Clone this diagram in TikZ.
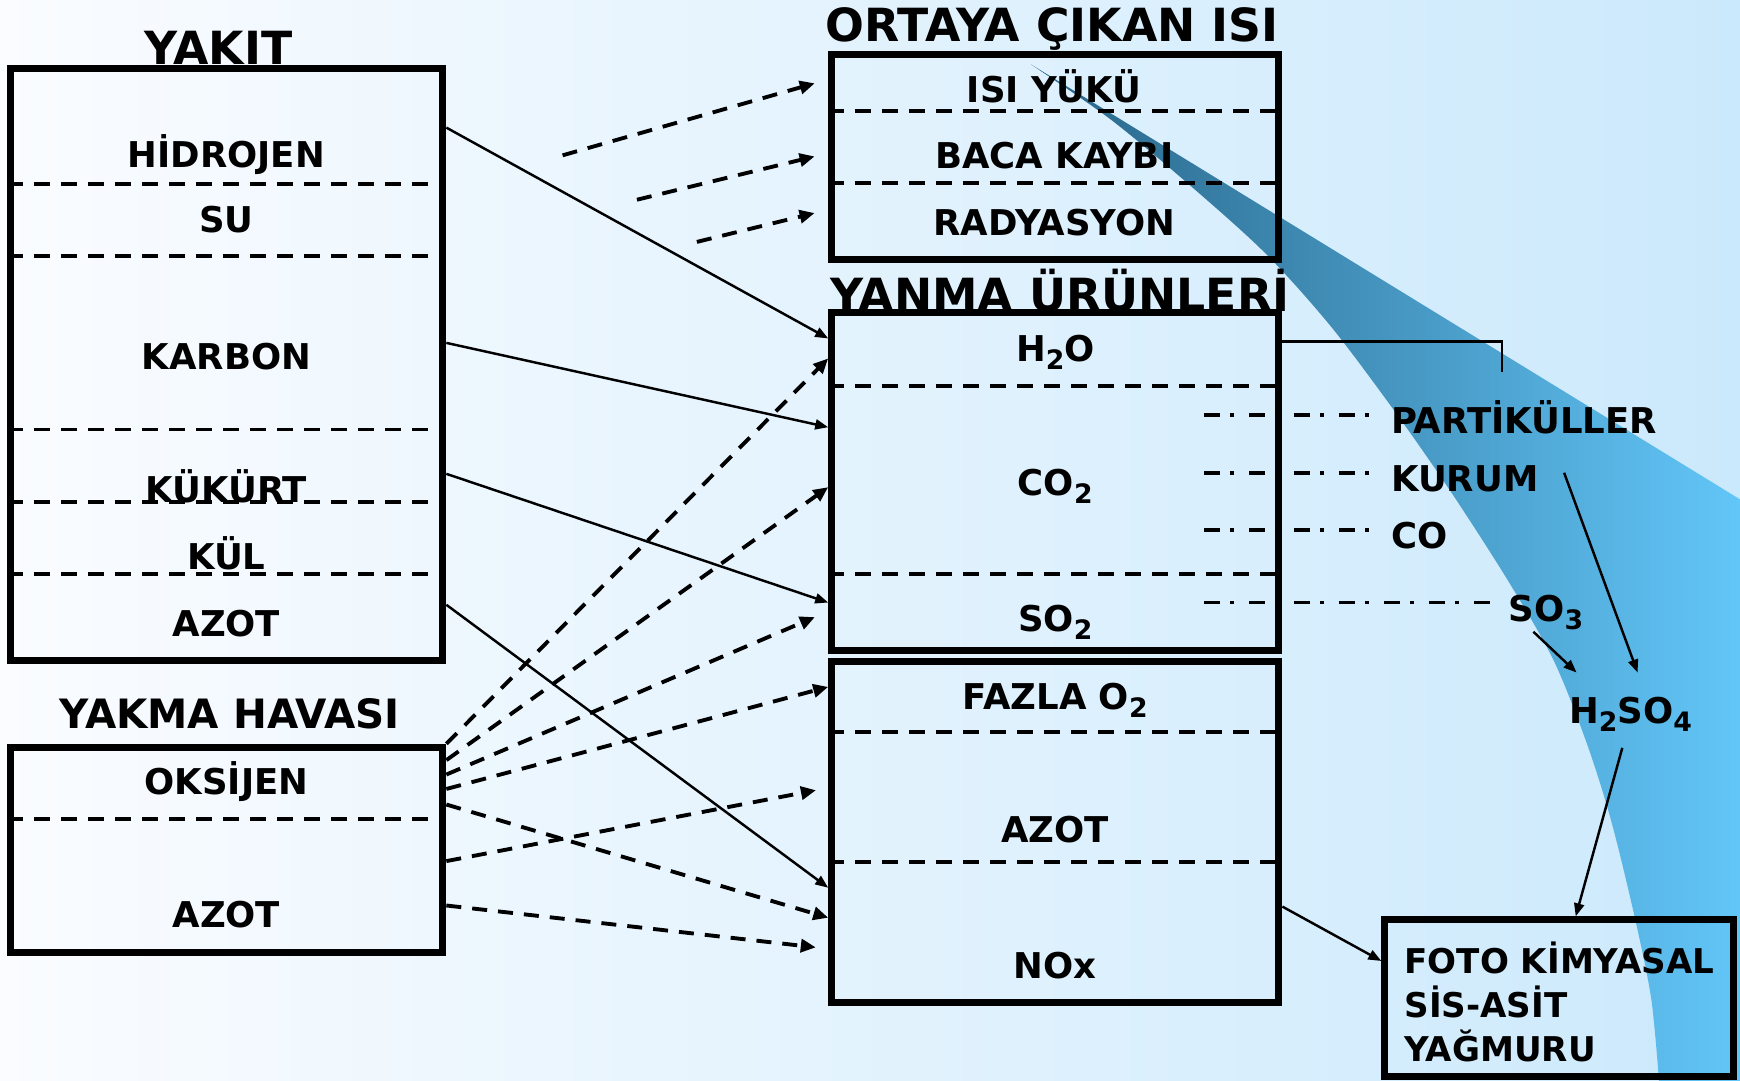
\documentclass[tikz,border=0pt]{standalone}
\usepackage{fontspec}
\setmainfont{DejaVu Sans}
\usetikzlibrary{arrows.meta}

\definecolor{paleleft}{RGB}{250,252,255}
\definecolor{paleright}{RGB}{203,233,252}
\definecolor{plumedark}{RGB}{40,100,135}
\definecolor{plumemid}{RGB}{72,152,196}
\definecolor{plumelight}{RGB}{98,198,248}

\newcommand{\chemsub}[1]{\raisebox{-2.3pt}{\fontsize{7.6}{8}\selectfont #1}}

\tikzset{
  box/.style={draw, line width=2pt, inner sep=0pt},
  divider/.style={line width=1.1pt, dash pattern=on 0.16cm off 0.11cm},
  lbl/.style={font=\fontsize{10.1}{12.5}\selectfont\bfseries, inner sep=0.1cm, text height=7.36pt, text depth=0pt},
  heading/.style={font=\fontsize{13}{15}\selectfont\bfseries, inner sep=0.1cm, text height=9.48pt, text depth=0pt},
  flow/.style={line width=0.7pt, -{Triangle[length=0.13cm,width=0.1cm]}},
  gas/.style={line width=1.1pt, dash pattern=on 0.15cm off 0.11cm, -{Triangle[length=0.15cm,width=0.13cm]}},
  trace/.style={line width=1.1pt, dash pattern=on 0.16cm off 0.10cm on 0.04cm off 0.15cm},
  bracket/.style={line width=0.8pt},
}

\begin{document}
\begin{tikzpicture}[x=0.011097cm, y=-0.011097cm]
\useasboundingbox (0,0) rectangle (1568,974);
\shade[left color=paleleft, right color=paleright] (0,0) rectangle (1568,974);

\shade[left color=plumedark, middle color=plumemid, right color=plumelight]
  (929,58) -- (1568,450) -- (1568,974)
  -- plot[smooth] coordinates {(1495,974) (1488,900) (1473,826) (1452,740) (1430,670) (1400,595) (1360,525) (1310,447) (1260,375) (1200,295) (1140,228) (1070,165) (1000,107) (929,58)}
  -- cycle;

\node[heading] (yakittitle) at (197,43) {YAKIT};
\node[heading] (isititle) at (948,22) {ORTAYA ÇIKAN ISI};
\node[heading] (uruntitle) at (955,266) {YANMA ÜRÜNLERİ};
\node[heading, font=\fontsize{11.5}{14}\selectfont\bfseries, text height=8.38pt] (havatitle) at (207,643) {YAKMA HAVASI};

\node[box, minimum width=4.321cm, minimum height=5.915cm] (yakit) at (204.3,328.5) {};
\node[box, minimum width=4.47cm, minimum height=2.047cm] (isi) at (951,141.75) {};
\node[box, minimum width=4.47cm, minimum height=3.379cm] (urun) at (951,434.25) {};
\node[box, minimum width=4.47cm, minimum height=3.407cm] (artik) at (951,749.5) {};
\node[box, minimum width=4.321cm, minimum height=2.047cm] (hava) at (204.3,765.75) {};
\node[box, minimum width=3.484cm, minimum height=1.565cm] (foto) at (1405,899.5) {};

\foreach \y in {166,231,387,452,517}
  \draw[divider] (yakit.west |- 0,\y) -- (yakit.east |- 0,\y);
\foreach \y in {100,165}
  \draw[divider] (isi.west |- 0,\y) -- (isi.east |- 0,\y);
\foreach \y in {348,517}
  \draw[divider] (urun.west |- 0,\y) -- (urun.east |- 0,\y);
\foreach \y in {659.6,776.6}
  \draw[divider] (artik.west |- 0,\y) -- (artik.east |- 0,\y);
\draw[divider] (hava.west |- 0,738) -- (hava.east |- 0,738);

\node[lbl] (hidrojen) at (204,139) {HİDROJEN};
\node[lbl] (su) at (204,198) {SU};
\node[lbl] (karbon) at (204,321) {KARBON};
\node[lbl] (kukurt) at (204,441) {KÜKÜRT};
\node[lbl] (kul) at (204,502) {KÜL};
\node[lbl] (azot) at (204,562) {AZOT};
\node[lbl] (oksijen) at (204,704) {OKSİJEN};
\node[lbl] (havazot) at (204,824) {AZOT};

\node[lbl] (isiyuku) at (950,81) {ISI YÜKÜ};
\node[lbl] (baca) at (950,140) {BACA KAYBI};
\node[lbl] (radyasyon) at (950,201) {RADYASYON};
\node[lbl] (h2o) at (951,314) {H\chemsub{2}O};
\node[lbl] (co2) at (951,435) {CO\chemsub{2}};
\node[lbl] (so2) at (951,557) {SO\chemsub{2}};
\node[lbl] (fazla) at (951,628) {FAZLA O\chemsub{2}};
\node[lbl] (artazot) at (951,748) {AZOT};
\node[lbl] (nox) at (951,870) {NOx};

\node[lbl, anchor=west] (partik) at (1244,379) {PARTİKÜLLER};
\node[lbl, anchor=west] (kurum) at (1244,431) {KURUM};
\node[lbl, anchor=west] (co) at (1244,483) {CO};
\node[lbl, anchor=west] (so3) at (1350,548) {SO\chemsub{3}};
\node[lbl, anchor=west] (h2so4) at (1404.5,640) {H\chemsub{2}SO\chemsub{4}};
\node[font=\fontsize{9.7}{12.5}\selectfont\bfseries, inner sep=0.1cm, align=left, anchor=west] (fototext) at (1256,902.5) {FOTO KİMYASAL\\SİS-ASİT\\YAĞMURU};

\draw[flow] (yakit.east |- 0,115) -- (urun.west |- 0,305);
\draw[flow] (yakit.east |- 0,309) -- (urun.west |- 0,385);
\draw[flow] (yakit.east |- 0,427) -- (urun.west |- 0,543);
\draw[flow] (yakit.east |- 0,545) -- (artik.west |- 0,800);

\coordinate (loss1) at (507,140);
\coordinate (loss2) at (574,180);
\coordinate (loss3) at (628,218);
\draw[gas, shorten >=0.14cm] (loss1) -- (isi.west |- 0,71.6);
\draw[gas, shorten >=0.14cm] (loss2) -- (isi.west |- 0,138);
\draw[gas, shorten >=0.14cm] (loss3) -- (isi.west |- 0,189);

\draw[gas] (hava.north east) -- (urun.west |- 0,323);
\draw[gas] (hava.east |- 0,685) -- (urun.west |- 0,439);
\draw[gas, shorten >=0.145cm] (hava.east |- 0,698) -- (urun.west |- 0,551);
\draw[gas] (hava.east |- 0,711) -- (artik.west |- 0,619);
\draw[gas] (hava.east |- 0,725) -- (artik.west |- 0,827);
\draw[gas, shorten >=0.125cm] (hava.east |- 0,776) -- (artik.west |- 0,710);
\draw[gas, shorten >=0.125cm] (hava.east |- 0,816) -- (artik.west |- 0,855);

\draw[flow] (artik.east |- 0,817) -- (foto.west |- 0,866);

\coordinate (brk) at (1353.6,335);
\draw[bracket] (urun.east |- 0,308) -| (brk);

\coordinate (tpart) at (1085,374);
\coordinate (tkurum) at (1085,426);
\coordinate (tco) at (1085,478);
\coordinate (tso3) at (1085,543);
\draw[trace] (tpart) -- (tpart -| partik.west);
\draw[trace] (tkurum) -- (tkurum -| kurum.west);
\draw[trace] (tco) -- (tco -| co.west);
\draw[trace] (tso3) -- (tso3 -| so3.west);

\draw[flow] ([xshift=0.15cm,yshift=0.055cm]kurum.east) -- ([xshift=0.07cm,yshift=0.14cm]h2so4.north);
\draw[flow] ([xshift=-0.126cm]so3.south) -- ([xshift=0.18cm,yshift=0.14cm]h2so4.north west);
\draw[flow] ([xshift=-0.083cm,yshift=-0.14cm]h2so4.south) -- ([xshift=0.166cm]foto.north);
\end{tikzpicture}
\end{document}
